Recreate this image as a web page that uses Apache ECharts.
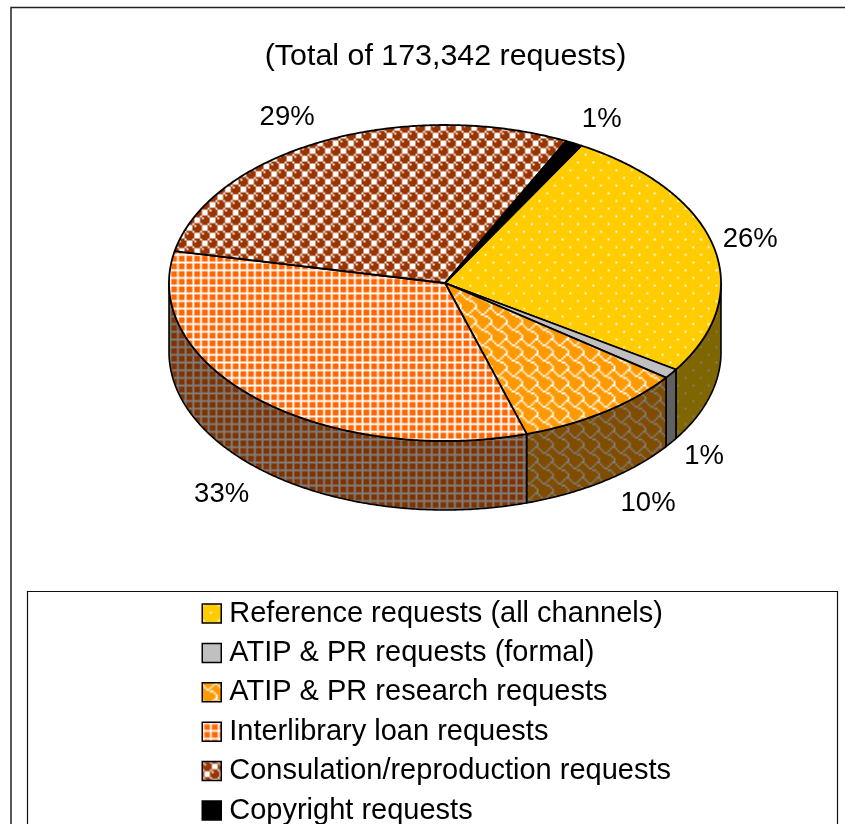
<!DOCTYPE html>
<html>
<head>
<meta charset="utf-8">
<style>html,body{margin:0;padding:0;background:#fff}#chart{width:845px;height:824px}</style>
<script src="https://cdn.jsdelivr.net/npm/echarts@6/dist/echarts.min.js"></script>
</head>
<body>
<div id="chart"></div>
<script>
// Share of requests by type, in percent
const categories = [
  'Reference requests (all channels)',
  'ATIP & PR requests (formal)',
  'ATIP & PR research requests',
  'Interlibrary loan requests',
  'Consulation/reproduction requests',
  'Copyright requests'
];
const shares = [26, 1, 10, 33, 29, 1];
const titleText = '(Total of 173,342 requests)';

// Pie geometry: a tilted disc seen as an ellipse with a visible rim
const CX = 445, CY = 283, RX = 276, RY = 158, RIM = 69, START_DEG = 29.6;
const FONT = '"Liberation Sans", Arial, sans-serif';

// 8x8 hatch bitmaps, one row per hex byte; set bits take the lighter colour
const hatches = {
  dots:    [0x80, 0x00, 0x00, 0x00, 0x08, 0x00, 0x00, 0x00],
  none:    [0, 0, 0, 0, 0, 0, 0, 0],
  shingle: [0x03, 0x84, 0x48, 0x30, 0x0C, 0x02, 0x01, 0x01],
  grid:    [0xFF, 0x88, 0x88, 0x88, 0xFF, 0x88, 0x88, 0x88],
  sphere:  [0x88, 0x47, 0x07, 0x07, 0x88, 0x74, 0x70, 0x70],
  solid:   [0, 0, 0, 0, 0, 0, 0, 0]
};
const topColors  = ['#FFCC00', '#C0C0C0', '#FF9900', '#FF6600', '#993300', '#000000'];
const sideColors = ['#7F6600', '#606060', '#7F4C00', '#7F3300', '#4C1900', '#000000'];
const hatchOf = ['dots', 'none', 'shingle', 'grid', 'sphere', 'solid'];

function makePattern(bits, fg, light) {
  const cell = document.createElement('canvas');
  cell.width = cell.height = 8;
  const c = cell.getContext('2d');
  c.fillStyle = fg;
  c.fillRect(0, 0, 8, 8);
  c.fillStyle = light;
  bits.forEach((row, y) => {
    for (let x = 0; x < 8; x++) {
      if (row & (0x80 >> x)) c.fillRect(x, y, 1, 1);
    }
  });
  // 13 repeats of the 8-cell tile across 200px gives the slightly soft hatch
  const tile = document.createElement('canvas');
  tile.width = tile.height = 200;
  const t = tile.getContext('2d');
  t.imageSmoothingEnabled = true;
  t.scale(200 / 104, 200 / 104);
  t.fillStyle = t.createPattern(cell, 'repeat');
  t.fillRect(0, 0, 104, 104);
  return { image: tile, repeat: 'repeat' };
}

const topFills = topColors.map((col, i) => makePattern(hatches[hatchOf[i]], col, '#FFFFFF'));
const sideFills = sideColors.map((col, i) => makePattern(hatches[hatchOf[i]], col, '#7F7F7F'));

// Where each percentage sits relative to the rim point at its slice's middle angle
const labelOffsets = [[37, -6], [33, 83], [44, 91], [-38, 94], [-36, -24], [28, -24]];

const total = shares.reduce((a, b) => a + b, 0);
const startAngles = [];
shares.reduce((acc, v, i) => {
  startAngles[i] = acc;
  return acc + v / total * 360;
}, START_DEG);

const rimPoint = (deg, dy) => {
  const a = deg * Math.PI / 180;
  return [CX + RX * Math.sin(a), CY - RY * Math.cos(a) + dy];
};

function arcPoints(from, to, dy) {
  const pts = [];
  const n = Math.max(2, Math.ceil((to - from) * 2));
  for (let k = 0; k <= n; k++) pts.push(rimPoint(from + (to - from) * k / n, dy));
  return pts;
}

function sliceRenderer(index) {
  return function (params, api) {
    const value = api.value(0);
    const from = startAngles[index];
    const to = from + value / total * 360;
    const children = [];

    // Rim wall: only the part of the arc that faces the viewer
    const wallFrom = Math.max(from, 90), wallTo = Math.min(to, 270);
    if (wallTo > wallFrom) {
      children.push({
        type: 'polygon',
        z2: 1,
        shape: { points: arcPoints(wallFrom, wallTo, 0).concat(arcPoints(wallFrom, wallTo, RIM).reverse()) },
        style: { fill: sideFills[index], stroke: '#000', lineWidth: 1.6, lineJoin: 'round' }
      });
    }

    // Top face
    children.push({
      type: 'polygon',
      z2: 2,
      shape: { points: [[CX, CY]].concat(arcPoints(from, to, 0)) },
      style: { fill: topFills[index], stroke: '#000', lineWidth: 1.8, lineJoin: 'round' }
    });

    // Percentage label
    const mid = rimPoint((from + to) / 2, 0);
    children.push({
      type: 'text',
      z2: 3,
      style: {
        x: mid[0] + labelOffsets[index][0],
        y: mid[1] + labelOffsets[index][1],
        text: value + '%',
        fill: '#000',
        font: '27.5px ' + FONT,
        align: 'center',
        verticalAlign: 'middle'
      }
    });
    return { type: 'group', children };
  };
}

const chart = echarts.init(document.getElementById('chart'), null, { renderer: 'canvas' });
chart.setOption({
  animation: false,
  backgroundColor: '#fff',
  title: {
    text: titleText,
    left: 440.5,
    top: 37,
    textAlign: 'center',
    textStyle: { fontFamily: FONT, fontSize: 30.4, fontWeight: 'normal', color: '#000' }
  },
  legend: {
    orient: 'vertical',
    left: 196.5,
    top: 594,
    height: 300,
    itemWidth: 19,
    itemHeight: 19,
    itemGap: 10.4,
    icon: 'rect',
    data: categories,
    selectedMode: false,
    textStyle: { fontFamily: FONT, fontSize: 29, color: '#000', lineHeight: 18, padding: [10, 0, 0, 3] },
    itemStyle: { borderColor: '#000', borderWidth: 1.5 }
  },
  graphic: [
    { type: 'rect', silent: true, z: -1, shape: { x: 11, y: 7.5, width: 900, height: 900 }, style: { fill: 'none', stroke: '#222', lineWidth: 1.5 } },
    { type: 'rect', silent: true, z: -1, shape: { x: 27.5, y: 591.5, width: 810, height: 300 }, style: { fill: '#fff', stroke: '#111', lineWidth: 1.2 } }
  ],
  series: categories.map((name, i) => ({
    type: 'custom',
    name,
    coordinateSystem: 'none',
    data: [shares[i]],
    itemStyle: { color: topFills[i] },
    renderItem: sliceRenderer(i),
    silent: true
  }))
});
</script>
</body>
</html>
